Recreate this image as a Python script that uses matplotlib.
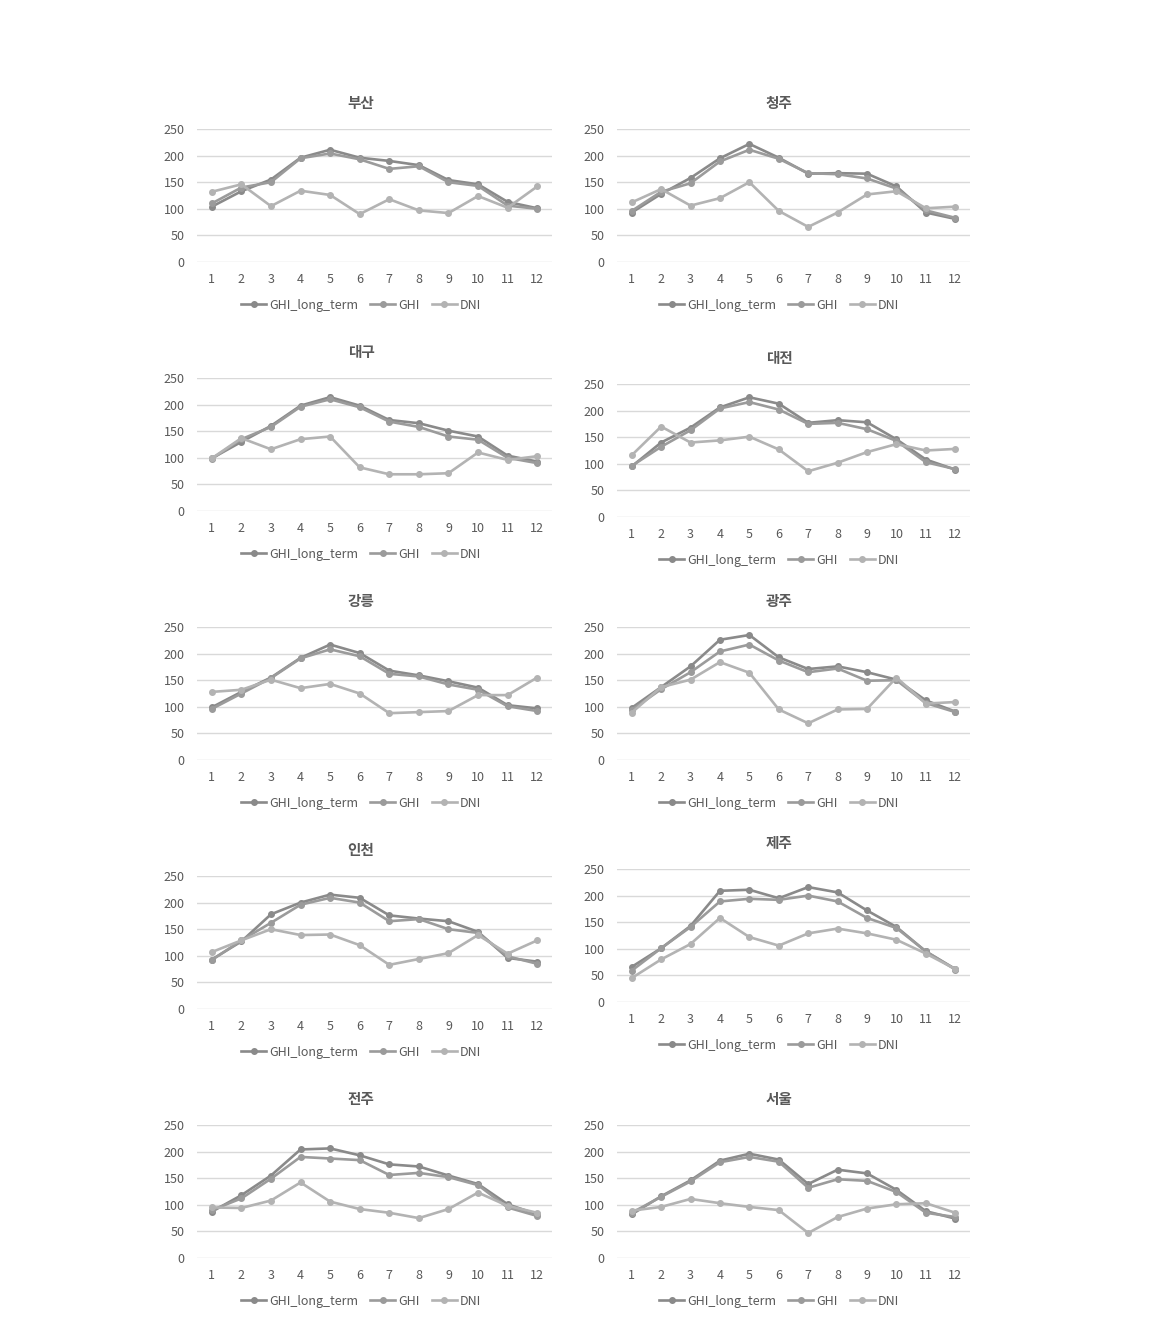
import matplotlib
matplotlib.use('Agg')
import matplotlib.pyplot as plt

plt.rcParams['font.family'] = ['Noto Sans CJK KR', 'DejaVu Sans']

months = [1, 2, 3, 4, 5, 6, 7, 8, 9, 10, 11, 12]
series_names = ['GHI_long_term', 'GHI', 'DNI']
cities = ['부산', '청주', '대구', '대전', '강릉', '광주', '인천', '제주', '전주', '서울']

# 월별 값 (도시별)
busan_lt = [104, 133, 155, 196, 211, 196, 190, 182, 154, 146, 113, 101]
busan_ghi = [110, 140, 150, 195, 204, 193, 175, 180, 150, 143, 106, 100]
busan_dni = [132, 146, 105, 134, 126, 90, 118, 97, 92, 124, 102, 142]

cheongju_lt = [93, 128, 158, 195, 222, 196, 166, 167, 166, 142, 93, 81]
cheongju_ghi = [96, 132, 148, 189, 211, 194, 167, 165, 157, 138, 97, 83]
cheongju_dni = [112, 137, 106, 120, 150, 96, 66, 93, 127, 133, 101, 104]

daegu_lt = [99, 130, 160, 198, 214, 198, 171, 165, 151, 140, 104, 93]
daegu_ghi = [98, 135, 158, 196, 210, 195, 168, 158, 140, 134, 100, 90]
daegu_dni = [99, 137, 116, 135, 140, 82, 69, 69, 71, 110, 96, 103]

daejeon_lt = [95, 140, 168, 206, 225, 213, 177, 182, 178, 146, 108, 89]
daejeon_ghi = [96, 132, 163, 204, 216, 202, 175, 177, 165, 143, 103, 90]
daejeon_dni = [116, 170, 140, 144, 151, 127, 86, 102, 122, 137, 125, 128]

gangneung_lt = [99, 128, 155, 192, 217, 201, 168, 159, 148, 136, 103, 97]
gangneung_ghi = [96, 125, 154, 191, 208, 195, 162, 157, 142, 132, 101, 92]
gangneung_dni = [128, 132, 151, 135, 143, 125, 88, 90, 92, 122, 122, 155]

gwangju_lt = [98, 137, 176, 226, 235, 193, 171, 176, 165, 151, 112, 91]
gwangju_ghi = [94, 133, 165, 204, 217, 187, 165, 172, 149, 150, 107, 90]
gwangju_dni = [89, 137, 151, 184, 164, 95, 69, 95, 96, 155, 106, 109]

incheon_lt = [93, 127, 178, 200, 215, 209, 176, 170, 165, 145, 96, 89]
incheon_ghi = [92, 129, 162, 196, 209, 200, 165, 169, 150, 143, 99, 85]
incheon_dni = [107, 129, 150, 139, 140, 120, 83, 94, 105, 139, 104, 129]

jeju_lt = [66, 101, 143, 209, 211, 195, 216, 206, 172, 141, 95, 62]
jeju_ghi = [59, 101, 141, 189, 194, 192, 200, 189, 158, 139, 95, 61]
jeju_dni = [45, 80, 109, 158, 122, 106, 129, 138, 129, 117, 91, 62]

jeonju_lt = [87, 118, 155, 204, 206, 193, 176, 172, 155, 139, 101, 82]
jeonju_ghi = [90, 112, 149, 190, 187, 184, 156, 160, 152, 137, 95, 79]
jeonju_dni = [95, 94, 108, 142, 106, 92, 85, 75, 92, 123, 98, 85]

seoul_lt = [82, 116, 146, 183, 196, 185, 139, 166, 159, 128, 88, 74]
seoul_ghi = [85, 115, 144, 180, 190, 181, 132, 148, 145, 124, 85, 77]
seoul_dni = [89, 96, 111, 103, 96, 90, 47, 77, 93, 101, 103, 85]

city_data = [
    (busan_lt, busan_ghi, busan_dni),
    (cheongju_lt, cheongju_ghi, cheongju_dni),
    (daegu_lt, daegu_ghi, daegu_dni),
    (daejeon_lt, daejeon_ghi, daejeon_dni),
    (gangneung_lt, gangneung_ghi, gangneung_dni),
    (gwangju_lt, gwangju_ghi, gwangju_dni),
    (incheon_lt, incheon_ghi, incheon_dni),
    (jeju_lt, jeju_ghi, jeju_dni),
    (jeonju_lt, jeonju_ghi, jeonju_dni),
    (seoul_lt, seoul_ghi, seoul_dni),
]

colors = ['#8a8a8a', '#9b9b9b', '#b3b3b3']
text_color = '#595959'

W, H = 1160, 1327
fig = plt.figure(figsize=(W / 100, H / 100), dpi=100)

# 각 패널의 위치 (픽셀: 왼쪽, 250선 y, 폭)
left_px = [197, 617]
top_px = [129, 129, 378, 384, 627, 627, 876, 869, 1125, 1125]
widths = [355, 353]
plot_h = 133

for i, city in enumerate(cities):
    col = i % 2
    x0 = left_px[col]
    w = widths[col]
    top = top_px[i]
    ax = fig.add_axes([x0 / W, (H - top - plot_h) / H, w / W, plot_h / H])

    for name, vals, c in zip(series_names, city_data[i], colors):
        ax.plot(months, vals, color=c, linewidth=1.9, marker='o',
                markersize=4, label=name)

    ax.set_xlim(0.5, 12.5)
    ax.set_ylim(0, 250)
    ax.set_xticks(months)
    ax.set_yticks([0, 50, 100, 150, 200, 250])
    ax.tick_params(length=0, labelsize=9, colors=text_color)
    ax.tick_params(axis='x', pad=8)
    ax.tick_params(axis='y', pad=9)
    for s in ax.spines.values():
        s.set_visible(False)
    ax.grid(axis='y', color='#d9d9d9', linewidth=1)
    ax.set_axisbelow(True)

    cx = (361 - x0) / w if col == 0 else (779 - x0) / w
    ax.text(cx, 1.195, city, transform=ax.transAxes, ha='center', va='center',
            fontsize=10.5, fontweight='bold', color=text_color)

    ax.legend(loc='center', bbox_to_anchor=(cx, -0.325), ncol=3, frameon=False,
              fontsize=9, handlelength=2.0, handletextpad=0.2, columnspacing=1.0,
              labelcolor=text_color)

plt.savefig('out.png', dpi=100, facecolor='white')
